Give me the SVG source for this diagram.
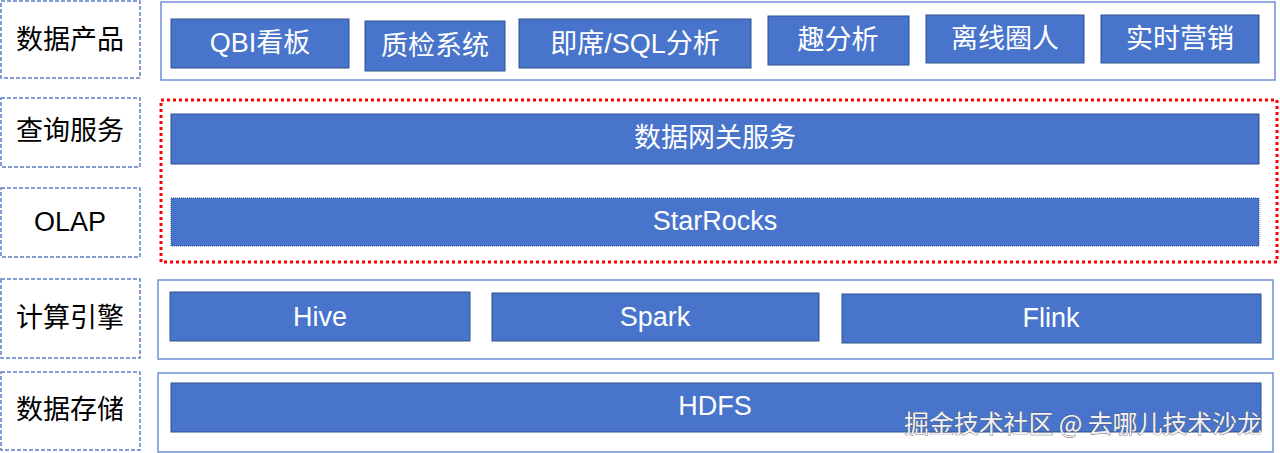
<svg xmlns="http://www.w3.org/2000/svg" width="1280" height="453" viewBox="0 0 1280 453">
<style>
.lbl{fill:#fff;stroke:#5b7fc7;stroke-width:1.5;stroke-dasharray:4 2}
.lt{font-family:"Liberation Sans","Noto Sans CJK SC",sans-serif;font-size:27px;fill:#000;text-anchor:middle;dominant-baseline:central}
.cont{fill:#fff;stroke:#6f8fd6;stroke-width:1.5}
.box{fill:#4874cb;stroke:#2f528f;stroke-width:1}
.bt{font-family:"Liberation Sans","Noto Sans CJK SC",sans-serif;font-size:27px;fill:#fff;text-anchor:middle;dominant-baseline:central}
.wm{font-family:"Noto Sans CJK SC",sans-serif;font-size:25px;fill:#f2f2f2;stroke:#555;stroke-width:0.7;paint-order:stroke}
</style>
<rect width="1280" height="453" fill="#fff"/>
<g id="labels">
<g id="lbl-product"><rect class="lbl" x="1" y="1" width="139" height="77"/><text class="lt" x="70" y="40">数据产品</text></g>
<g id="lbl-query"><rect class="lbl" x="1" y="98" width="139" height="69"/><text class="lt" x="70" y="131">查询服务</text></g>
<g id="lbl-olap"><rect class="lbl" x="1" y="188" width="139" height="69"/><text class="lt" x="70" y="222">OLAP</text></g>
<g id="lbl-compute"><rect class="lbl" x="1" y="279" width="139" height="79"/><text class="lt" x="70" y="318">计算引擎</text></g>
<g id="lbl-storage"><rect class="lbl" x="1" y="372" width="139" height="78"/><text class="lt" x="70" y="410">数据存储</text></g>
</g>
<g id="containers">
<rect id="c-product" class="cont" x="161" y="2" width="1114" height="78"/>
<rect id="c-query" x="161" y="100" width="1116" height="162" fill="none" stroke="#f00" stroke-width="3" stroke-dasharray="3 3"/>
<rect id="c-compute" class="cont" x="158" y="280" width="1115" height="79"/>
<rect id="c-storage" class="cont" x="158" y="373" width="1115" height="79"/>
</g>
<g id="n-qbi"><rect class="box" x="171" y="19" width="178" height="49"/><text class="bt" x="260" y="43">QBI看板</text></g>
<g id="n-qc"><rect class="box" x="365" y="21" width="140" height="50"/><text class="bt" x="435" y="46">质检系统</text></g>
<g id="n-sql"><rect class="box" x="519" y="19" width="232" height="49"/><text class="bt" x="635" y="44">即席/SQL分析</text></g>
<g id="n-qu"><rect class="box" x="768" y="16" width="141" height="49"/><text class="bt" x="838" y="40">趣分析</text></g>
<g id="n-offline"><rect class="box" x="926" y="15" width="158" height="48"/><text class="bt" x="1005" y="39">离线圈人</text></g>
<g id="n-rt"><rect class="box" x="1101" y="15" width="158" height="48"/><text class="bt" x="1180" y="39">实时营销</text></g>
<g id="n-gw"><rect class="box" x="171" y="114" width="1088" height="50"/><text class="bt" x="715" y="138">数据网关服务</text></g>
<g id="n-sr"><rect class="box" x="171" y="198" width="1088" height="48" stroke="#d06a9a" stroke-dasharray="1 1"/><text class="bt" x="715" y="221">StarRocks</text></g>
<g id="n-hive"><rect class="box" x="170" y="292" width="300" height="49"/><text class="bt" x="320" y="317">Hive</text></g>
<g id="n-spark"><rect class="box" x="492" y="293" width="327" height="48"/><text class="bt" x="655" y="317">Spark</text></g>
<g id="n-flink"><rect class="box" x="842" y="294" width="419" height="49"/><text class="bt" x="1051" y="318">Flink</text></g>
<g id="n-hdfs"><rect class="box" x="171" y="383" width="1090" height="49"/><text class="bt" x="715" y="406">HDFS</text></g>
<g id="connectors"></g>
<text class="wm" x="904" y="433" textLength="358">掘金技术社区 @ 去哪儿技术沙龙</text>
</svg>
